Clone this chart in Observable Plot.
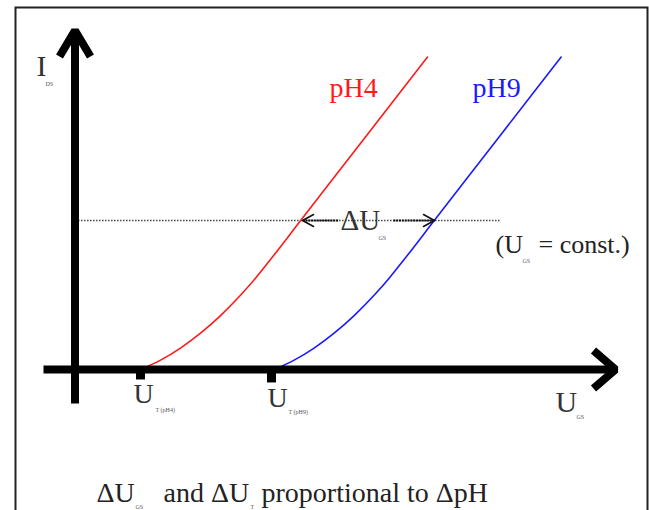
<!DOCTYPE html>
<html>
<head>
<meta charset="utf-8">
<script src="https://cdn.jsdelivr.net/npm/d3@7"></script>
<script src="https://cdn.jsdelivr.net/npm/@observablehq/plot@0.6"></script>
<style>
  html, body { margin: 0; padding: 0; background: #fff; }
  svg { display: block; }
</style>
</head>
<body>
<div id="chart"></div>
<script>
// ---- data (U_GS in arbitrary volts, I_DS in arbitrary units) ----
const thresholds = [0.5, 1.5];            // U_T(pH4), U_T(pH9)
const constCurrent = 1;                   // U_GS = const level
const redV  = [0.5, 0.653, 0.805, 0.958, 1.111, 1.263, 1.378, 1.492, 1.721, 2.103, 2.485, 2.691];
const redI  = [0,   0.063, 0.144, 0.244, 0.362, 0.498, 0.613, 0.738, 0.998, 1.431, 1.864, 2.097];
const blueV = [1.52, 1.673, 1.825, 1.978, 2.131, 2.283, 2.398, 2.512, 2.741, 3.123, 3.505, 3.711];
const blueI = [0,    0.063, 0.144, 0.244, 0.362, 0.498, 0.613, 0.738, 0.998, 1.431, 1.864, 2.097];

// ---- layout (in data units) ----
const serif = "'Liberation Serif', 'Times New Roman', serif";
const ink = "#222";
const axisW = 8;

const marks = [
  // frame
  Plot.frame({stroke: ink, strokeWidth: 2, insetLeft: 15, insetTop: 7, insetRight: 2, insetBottom: -6}),
  // dotted constant line
  Plot.ruleY([constCurrent], {x1: 0.027, x2: 3.248, stroke: "#444", strokeWidth: 1.5, strokeDasharray: "1.5,1.5"}),
  // curves
  Plot.line(redV, {x: redV, y: redI, stroke: "#ff1a1a", strokeWidth: 1.6, curve: "monotone-x"}),
  Plot.line(blueV, {x: blueV, y: blueI, stroke: "#1a1aff", strokeWidth: 1.6, curve: "monotone-x"}),
  // vertical axis
  Plot.link([0], {x1: 0, x2: 0, y1: -0.228, y2: 2.2752, stroke: "#000", strokeWidth: axisW}),
  Plot.line([[-0.1183, 2.1007], [0, 2.2752], [0.1183, 2.1007]], {x: d => d[0], y: d => d[1], stroke: "#000", strokeWidth: axisW, strokeLinejoin: "miter", strokeLinecap: "butt", curve: "linear"}),
  // horizontal axis
  Plot.link([0], {x1: -0.2405, x2: 4.126, y1: 0, y2: 0, stroke: "#000", strokeWidth: axisW}),
  Plot.line([[3.958, 0.1275], [4.126, 0], [3.958, -0.1275]], {x: d => d[0], y: d => d[1], stroke: "#000", strokeWidth: axisW, strokeLinejoin: "miter", strokeLinecap: "butt", curve: "linear"}),
  // threshold ticks
  Plot.link(thresholds, {x1: d => d, x2: d => d, y1: 0, y2: (d, i) => i === 0 ? -0.067 : -0.087, stroke: "#000", strokeWidth: 9}),
  // delta arrows
  Plot.link([0], {x1: 1.737, x2: 2.011, y1: constCurrent, y2: constCurrent, stroke: "#111", strokeWidth: 1.8, strokeDasharray: "2,0.8"}),
  Plot.line([[1.821, 1.040], [1.737, 1.0], [1.821, 0.960]], {x: d => d[0], y: d => d[1], stroke: "#111", strokeWidth: 1.6}),
  Plot.link([0], {x1: 2.431, x2: 2.744, y1: constCurrent, y2: constCurrent, stroke: "#111", strokeWidth: 1.8, strokeDasharray: "2,0.8"}),
  Plot.line([[2.660, 1.040], [2.744, 1.0], [2.660, 0.960]], {x: d => d[0], y: d => d[1], stroke: "#111", strokeWidth: 1.6}),
];

// texts: [text, x, y, size, color]
const labels = [
  ["I", -0.294, 1.973, 30, "#333"],
  ["DS", -0.225, 1.906, 6, "#555"],
  ["pH4", 1.943, 1.826, 28, "#ff1a1a"],
  ["pH9", 3.034, 1.826, 28, "#1a1aff"],
  ["\u0394U", 2.027, 0.933, 29, "#333"],
  ["GS", 2.317, 0.866, 6, "#555"],
  ["(U", 3.210, 0.779, 26, "#222"],
  ["GS", 3.416, 0.712, 6, "#555"],
  ["= const.)", 3.538, 0.779, 26, "#222"],
  ["U", 3.668, -0.282, 30, "#333"],
  ["GS", 3.828, -0.329, 6, "#555"],
  ["U", 0.447, -0.228, 28, "#333"],
  ["T (pH4)", 0.615, -0.282, 6, "#555"],
  ["U", 1.469, -0.255, 28, "#333"],
  ["T (pH9)", 1.630, -0.302, 6, "#555"],
  ["\u0394U", 0.1649, -0.886, 28, "#222"],
  ["GS", 0.4618, -0.933, 6, "#555"],
  ["and \u0394U", 0.6756, -0.886, 28, "#222"],
  ["T", 1.340, -0.933, 6, "#555"],
  ["proportional to \u0394pH", 1.4237, -0.886, 28, "#222"],
];
for (const [t, x, y, s, c] of labels) {
  marks.push(Plot.text([t], {x: () => x, y: () => y, text: d => d, fontSize: s, fill: c, textAnchor: "start", lineAnchor: "bottom", fontFamily: serif}));
}

const chart = Plot.plot({
  width: 649,
  height: 510,
  margin: 0,
  x: {domain: [-74.5 / 131, (649 - 74.5) / 131], axis: null},
  y: {domain: [-(510 - 369) / 149, 369 / 149], axis: null},
  style: {background: "#fff", fontFamily: serif},
  marks
});
document.getElementById("chart").append(chart);
</script>
</body>
</html>
